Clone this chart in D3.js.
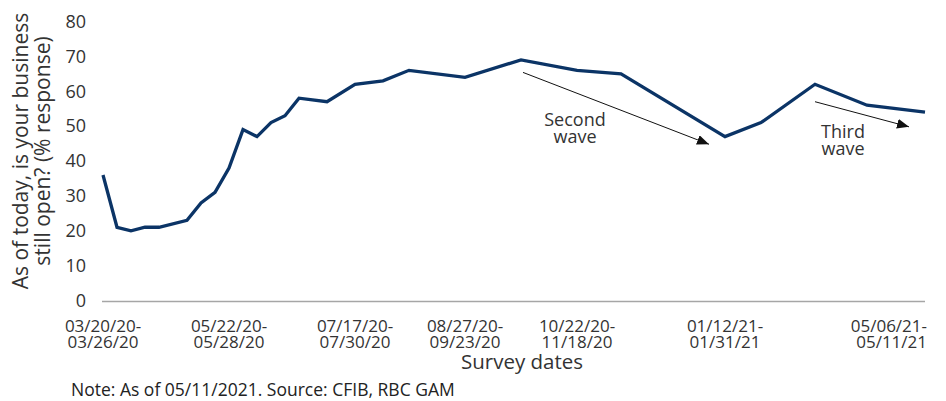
<!DOCTYPE html>
<html>
<head>
<meta charset="utf-8">
<script src="https://cdn.jsdelivr.net/npm/d3@7/dist/d3.min.js"></script>
<style>
  html, body { margin: 0; padding: 0; background: #fff; }
  svg { display: block; font-family: "Open Sans", "Noto Sans", sans-serif; }
</style>
</head>
<body>
<svg id="chart" width="946" height="401"></svg>
<script>
// Survey period end dates and share of businesses fully open (%)
const surveyEnd = ["2020-03-26","2020-04-02","2020-04-09","2020-04-16","2020-04-23","2020-05-07",
  "2020-05-14","2020-05-21","2020-05-28","2020-06-04","2020-06-11","2020-06-18","2020-06-25",
  "2020-07-02","2020-07-16","2020-07-30","2020-08-13","2020-08-26","2020-09-23","2020-10-21",
  "2020-11-18","2020-12-10","2021-01-31","2021-02-18","2021-03-17","2021-04-12","2021-05-11"];
const openShare = [36,21,20,21,21,23,28,31,38,49,47,51,53,58,57,62,63,66,64,69,66,65,47,51,62,56,54];

// Labelled survey periods on the x axis
const tickEnds = ["2020-03-26","2020-05-28","2020-07-30","2020-09-23","2020-11-18","2021-01-31","2021-05-11"];
const tickLabels = [
  ["03/20/20-","03/26/20"], ["05/22/20-","05/28/20"], ["07/17/20-","07/30/20"],
  ["08/27/20-","09/23/20"], ["10/22/20-","11/18/20"], ["01/12/21-","01/31/21"],
  ["05/06/21-","05/11/21"]
];
const yTicks = [0,10,20,30,40,50,60,70,80];

// Wave annotations: arrow start/end and label anchor in data space
const waveLabels = [["Second","wave"], ["Third","wave"]];
const waveArrowFrom = [["2020-10-22",65.4], ["2021-03-17",57]];
const waveArrowTo = [["2021-01-23",44.8], ["2021-05-03",49.8]];
const waveTextAt = [["2020-11-17",50], ["2021-03-31",46.6]];

const parse = d3.utcParse("%Y-%m-%d");
const svg = d3.select("#chart");

const x = d3.scaleUtc()
  .domain([parse("2020-03-26"), parse("2021-05-11")])
  .range([103, 925]);
const y = d3.scaleLinear().domain([0, 80]).range([300.5, 21.5]);

const textColor = "#333";

// Baseline
svg.append("line")
  .attr("x1", x.range()[0] - 1).attr("x2", x.range()[1])
  .attr("y1", y(0) + 1).attr("y2", y(0) + 1)
  .attr("stroke", "#a6a6a6").attr("stroke-width", 1.3);

// Y tick labels
svg.append("g").selectAll("text").data(yTicks).join("text")
  .attr("x", 86).attr("y", d => y(d))
  .attr("dy", "0.35em")
  .attr("text-anchor", "end")
  .attr("font-size", 18)
  .attr("fill", textColor)
  .text(d => d);

// Y axis title (two lines)
const yTitle = svg.append("text")
  .attr("transform", "translate(0,151) rotate(-90)")
  .attr("text-anchor", "middle")
  .attr("font-size", 21)
  .attr("fill", textColor);
yTitle.append("tspan").attr("x", 0).attr("y", 28).text("As of today, is your business");
yTitle.append("tspan").attr("x", 0).attr("y", 50).text("still open? (% response)");

// X tick labels
const xLab = svg.append("g").selectAll("text").data(tickEnds).join("text")
  .attr("font-size", 17)
  .attr("fill", textColor)
  .attr("text-anchor", (d, i) => i === tickEnds.length - 1 ? "end" : "middle")
  .attr("transform", (d, i) => `translate(${x(parse(d)) + (i === tickEnds.length - 1 ? 2 : 0)},0)`);
xLab.each(function(d, i) {
  const t = d3.select(this);
  tickLabels[i].forEach((s, k) => t.append("tspan").attr("x", 0).attr("y", 332 + k * 16).text(s));
});

// X axis title
svg.append("text")
  .attr("x", 522).attr("y", 369)
  .attr("text-anchor", "middle")
  .attr("font-size", 20.5)
  .attr("fill", textColor)
  .text("Survey dates");

// Source note
svg.append("text")
  .attr("x", 71).attr("y", 396)
  .attr("font-size", 17.5)
  .attr("fill", "#222")
  .text("Note: As of 05/11/2021. Source: CFIB, RBC GAM");

// Data line
const pts = surveyEnd.map((d, i) => [parse(d), openShare[i]]);
svg.append("path")
  .datum(pts)
  .attr("fill", "none")
  .attr("stroke", "#0b3466")
  .attr("stroke-width", 3.3)
  .attr("stroke-linejoin", "miter")
  .attr("d", d3.line().x(d => x(d[0])).y(d => y(d[1])));

// Arrowhead marker
svg.append("defs").append("marker")
  .attr("id", "arrowhead")
  .attr("viewBox", "0 0 12 10")
  .attr("refX", 12).attr("refY", 5)
  .attr("markerWidth", 12).attr("markerHeight", 10)
  .attr("markerUnits", "userSpaceOnUse")
  .attr("orient", "auto")
  .append("path")
  .attr("d", "M0,0 L12,5 L0,10 Z")
  .attr("fill", "#111");

// Wave annotations
waveLabels.forEach((lines, i) => {
  svg.append("line")
    .attr("x1", x(parse(waveArrowFrom[i][0]))).attr("y1", y(waveArrowFrom[i][1]))
    .attr("x2", x(parse(waveArrowTo[i][0]))).attr("y2", y(waveArrowTo[i][1]))
    .attr("stroke", "#111").attr("stroke-width", 1)
    .attr("marker-end", "url(#arrowhead)");
  const t = svg.append("text")
    .attr("text-anchor", "middle")
    .attr("font-size", 18)
    .attr("fill", textColor);
  lines.forEach((s, k) => t.append("tspan")
    .attr("x", x(parse(waveTextAt[i][0])))
    .attr("y", y(waveTextAt[i][1]) + k * 17)
    .text(s));
});
</script>
</body>
</html>
